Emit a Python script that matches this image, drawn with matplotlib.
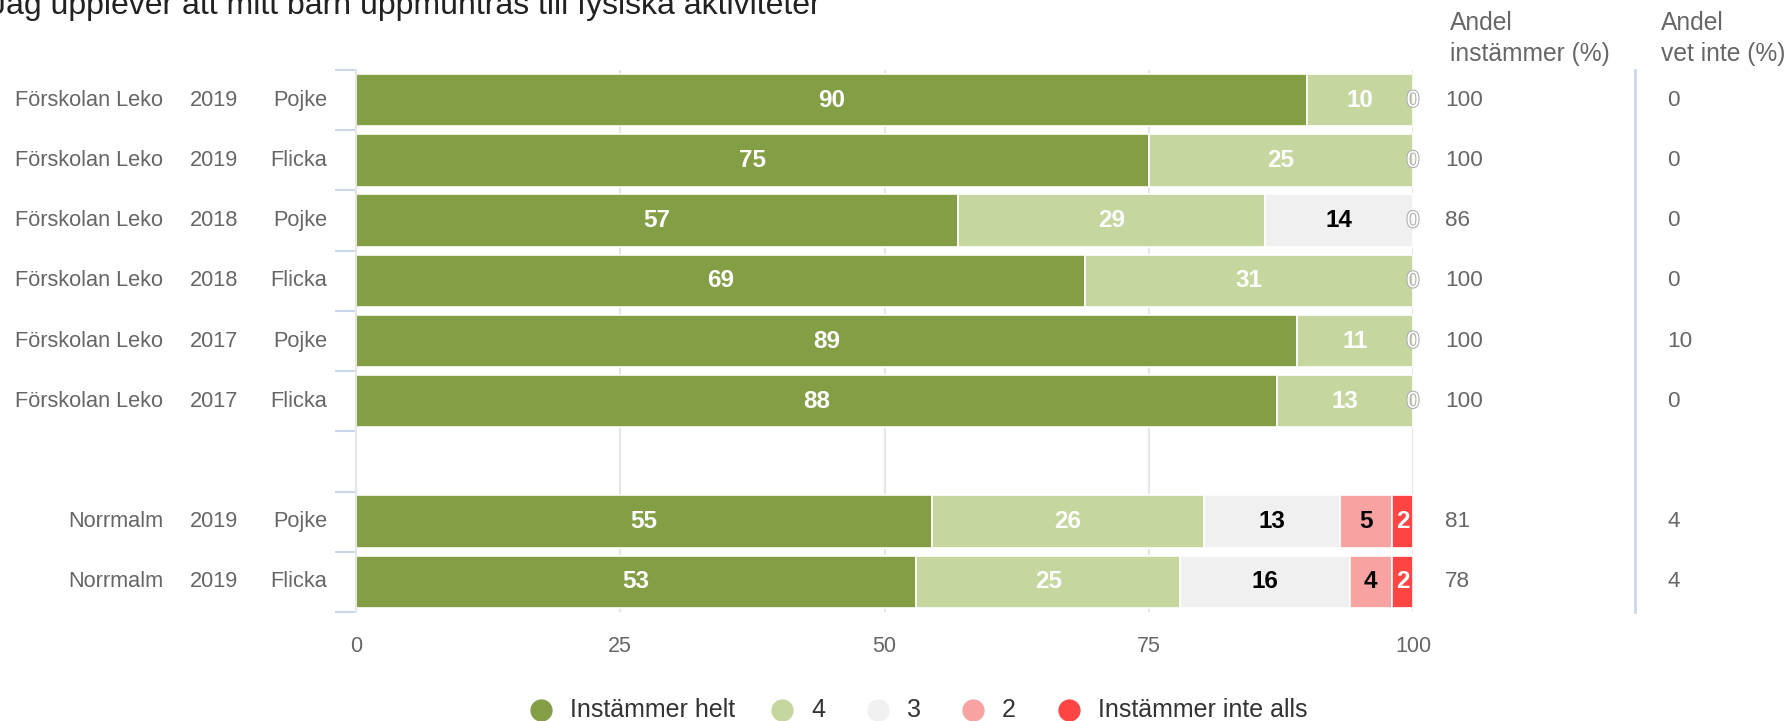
import matplotlib
matplotlib.use("Agg")
import matplotlib.pyplot as plt
import matplotlib.patheffects as pe
from matplotlib.transforms import blended_transform_factory
import numpy as np

plt.rcParams["font.family"] = ["Liberation Sans", "DejaVu Sans"]

W, H = 1787, 721

title = "Jag upplever att mitt barn uppmuntras till fysiska aktiviteter"
units = ["Förskolan Leko"] * 6 + ["", "Norrmalm", "Norrmalm"]
years = ["2019", "2019", "2018", "2018", "2017", "2017", "", "2019", "2019"]
genders = ["Pojke", "Flicka", "Pojke", "Flicka", "Pojke", "Flicka", "", "Pojke", "Flicka"]

series_names = ["Instämmer helt", "4", "3", "2", "Instämmer inte alls"]
helt = [90, 75, 57, 69, 89, 88, None, 55, 53]
fyra = [10, 25, 29, 31, 11, 13, None, 26, 25]
tre = [0, 0, 14, 0, 0, 0, None, 13, 16]
tva = [None, None, 0, None, None, None, None, 5, 4]
inte = [None, None, None, None, None, None, None, 2, 2]

andel_instammer = ["100", "100", "86", "100", "100", "100", "", "81", "78"]
andel_vet_inte = ["0", "0", "0", "0", "10", "0", "", "4", "4"]

colors = ["#839e45", "#c5d79e", "#f0f0f0", "#f9a2a2", "#ff4444"]
label_colors = ["white", "white", "black", "black", "white"]

GRAY = "#666666"

fig = plt.figure(figsize=(W / 100, H / 100), dpi=100)
ax = fig.add_axes([356 / W, (H - 612) / H, (1413 - 356) / W, (612 - 70) / H])
ov = fig.add_axes([0, 0, 1, 1], zorder=5)
ov.set_xlim(0, W)
ov.set_ylim(H, 0)
ov.axis("off")

vals = np.array([[np.nan if v is None else v for v in s] for s in (helt, fyra, tre, tva, inte)], float)
totals = np.nansum(vals, axis=0)
pct = vals / np.where(totals > 0, totals, 1) * 100
y = np.arange(len(units))

left = np.zeros(len(units))
for k in range(len(series_names)):
    row = vals[k]
    w = np.nan_to_num(pct[k])
    m = (~np.isnan(row)) & (w > 0)
    ax.barh(y[m], w[m], left=left[m], height=0.87, color=colors[k],
            edgecolor="white", linewidth=1.2, zorder=2)
    for j in range(len(units)):
        if np.isnan(row[j]):
            continue
        if row[j] > 0:
            ax.text(left[j] + w[j] / 2, y[j], f"{row[j]:.0f}", ha="center", va="center",
                    fontsize=17.5, fontweight="bold", color=label_colors[k], zorder=3)
        else:
            ax.text(left[j], y[j], "0", ha="center", va="center", fontsize=16.5,
                    color="white", zorder=3,
                    path_effects=[pe.withStroke(linewidth=1.6, foreground="#b0b0b0")])
    left += w

ax.set_xlim(0, 100)
ax.set_ylim(len(units) - 0.5, -0.5)
ax.set_xticks([0, 25, 50, 75, 100])
ax.grid(axis="x", color="#e6e6e6", linewidth=1.5, zorder=0)
ax.set_axisbelow(True)
ax.set_yticks(np.arange(-0.5, len(units), 1))
ax.set_yticklabels([])
ax.tick_params(axis="y", length=15, width=1.5, color="#ccd6eb")
ax.tick_params(axis="x", length=0, pad=17, labelsize=15.5, labelcolor=GRAY)
for side in ("top", "right", "bottom"):
    ax.spines[side].set_visible(False)
ax.spines["left"].set_color("#e6e6e6")
ax.spines["left"].set_linewidth(1.5)

# category labels and side columns
tr = blended_transform_factory(ov.transData, ax.transData)
for j in range(len(units)):
    ov.text(163, y[j], units[j], transform=tr, ha="right", va="center", fontsize=15.7, color=GRAY)
    ov.text(214, y[j], years[j], transform=tr, ha="center", va="center", fontsize=15.7, color=GRAY)
    ov.text(327, y[j], genders[j], transform=tr, ha="right", va="center", fontsize=15.7, color=GRAY)
    ov.text(1445, y[j], andel_instammer[j], transform=tr, ha="left", va="center", fontsize=16.2, color=GRAY)
    ov.text(1667, y[j], andel_vet_inte[j], transform=tr, ha="left", va="center", fontsize=16.2, color=GRAY)

ov.text(1450, 23, "Andel", ha="left", va="center", fontsize=17.7, color=GRAY)
ov.text(1450, 54, "instämmer (%)", ha="left", va="center", fontsize=17.7, color=GRAY)
ov.text(1661, 23, "Andel", ha="left", va="center", fontsize=17.7, color=GRAY)
ov.text(1661, 54, "vet inte (%)", ha="left", va="center", fontsize=17.7, color=GRAY)
ov.plot([1635, 1635], [70, 612], color="#ccd6eb", linewidth=2)

ov.text(-10, 14, title, ha="left", va="baseline", fontsize=23, color="#222222")

# legend
marker_x = [541, 782, 878, 973, 1069]
for k, name in enumerate(series_names):
    ov.plot(marker_x[k], 710, "o", markersize=15, color=colors[k])
    ov.text(marker_x[k] + 29, 710, name, ha="left", va="center", fontsize=18, color="#333333")

fig.savefig("out.png", dpi=100, facecolor="white")
